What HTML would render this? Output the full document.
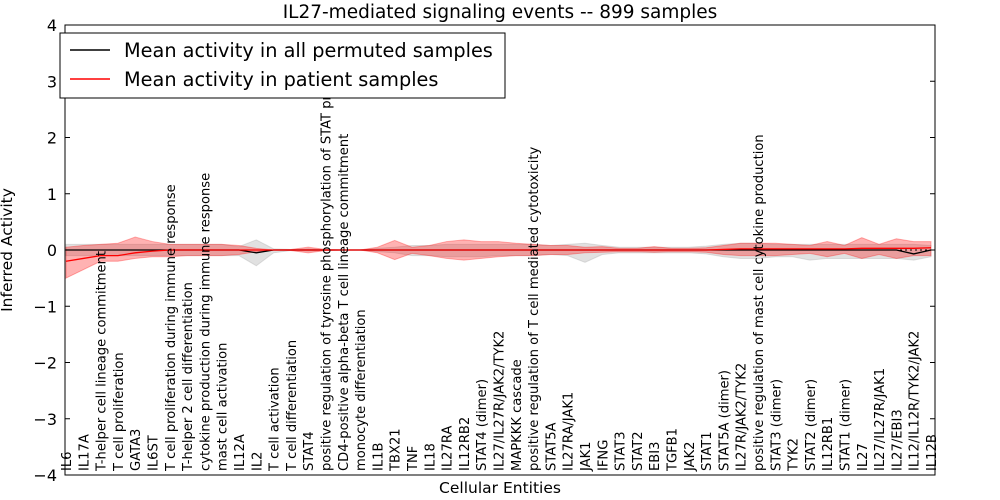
<!DOCTYPE html>
<html><head><meta charset="utf-8"><style>body{margin:0;background:#fff}svg{display:block}text{font-family:"DejaVu Sans","Liberation Sans",sans-serif}</style></head>
<body>
<svg id="c" width="1000" height="500" xmlns="http://www.w3.org/2000/svg"></svg>
<script>
const categories=["IL6","IL17A","T-helper cell lineage commitment","T cell proliferation","GATA3","IL6ST","T cell proliferation during immune response","T-helper 2 cell differentiation","cytokine production during immune response","mast cell activation","IL12A","IL2","T cell activation","T cell differentiation","STAT4","positive regulation of tyrosine phosphorylation of STAT protein","CD4-positive alpha-beta T cell lineage commitment","monocyte differentiation","IL1B","TBX21","TNF","IL18","IL27RA","IL12RB2","STAT4 (dimer)","IL27/IL27R/JAK2/TYK2","MAPKKK cascade","positive regulation of T cell mediated cytotoxicity","STAT5A","IL27RA/JAK1","JAK1","IFNG","STAT3","STAT2","EBI3","TGFB1","JAK2","STAT1","STAT5A (dimer)","IL27R/JAK2/TYK2","positive regulation of mast cell cytokine production","STAT3 (dimer)","TYK2","STAT2 (dimer)","IL12RB1","STAT1 (dimer)","IL27","IL27/IL27R/JAK1","IL27/EBI3","IL12/IL12R/TYK2/JAK2","IL12B"];
const patientMean=[-0.2,-0.15,-0.1,-0.1,-0.05,-0.02,0,0,0,0,0,0,0,0,0,0,0,0,0,0,0,0,0,0,0,0,0,0,0,0,0,0,0,0,0,0,0,0,0.01,0.02,0.02,0.02,0.02,0.02,0.02,0.02,0.03,0.03,0.03,0.03,0.04];
const patientUpper=[0.05,0.08,0.1,0.12,0.23,0.15,0.1,0.1,0.1,0.1,0.08,0.03,0,0.01,0.05,0.01,0,0,0.05,0.17,0.05,0.08,0.15,0.18,0.15,0.15,0.12,0.1,0.08,0.08,0.05,0.06,0.03,0.03,0.06,0.03,0.03,0.04,0.08,0.12,0.12,0.12,0.1,0.08,0.15,0.08,0.22,0.1,0.2,0.15,0.15];
const patientLower=[-0.5,-0.35,-0.2,-0.2,-0.15,-0.12,-0.12,-0.1,-0.1,-0.1,-0.08,-0.03,0,-0.01,-0.05,-0.01,0,0,-0.05,-0.17,-0.06,-0.1,-0.15,-0.18,-0.15,-0.12,-0.1,-0.1,-0.08,-0.08,-0.05,-0.04,-0.03,-0.03,-0.04,-0.03,-0.03,-0.04,-0.08,-0.1,-0.1,-0.1,-0.08,-0.06,-0.12,-0.06,-0.15,-0.08,-0.15,-0.1,-0.1];
const permMean=[0,0,0,0,0,0,0,0,0,0,0,-0.05,0,0,0,0,0,0,0,0,0,0,0,0,0,0,0,0,0,0,0,0,0,0,0,0,0,0,0,0,0,0,0,0,0,0,0,0,0,-0.07,0];
const permUpper=[0.1,0.1,0.1,0.1,0.1,0.1,0.1,0.1,0.1,0.1,0.06,0.18,0.02,0.01,0.02,0.01,0,0,0.03,0.05,0.08,0.08,0.1,0.1,0.1,0.1,0.1,0.1,0.08,0.1,0.12,0.08,0.05,0.05,0.05,0.05,0.05,0.07,0.1,0.12,0.12,0.1,0.1,0.1,0.1,0.1,0.1,0.1,0.1,0.1,0.08];
const permLower=[-0.1,-0.1,-0.1,-0.1,-0.1,-0.1,-0.1,-0.1,-0.1,-0.1,-0.1,-0.28,-0.05,-0.01,-0.02,-0.01,0,0,-0.03,-0.05,-0.1,-0.1,-0.12,-0.12,-0.12,-0.1,-0.1,-0.1,-0.08,-0.1,-0.22,-0.08,-0.05,-0.05,-0.05,-0.05,-0.05,-0.07,-0.12,-0.15,-0.15,-0.12,-0.12,-0.18,-0.15,-0.15,-0.15,-0.15,-0.15,-0.18,-0.12];
const yTicks=[-4,-3,-2,-1,0,1,2,3,4];

const NS="http://www.w3.org/2000/svg",svg=document.getElementById('c');
const L=65,R=935,T=25,B=475;
const x=i=>66+i*(931-66)/(categories.length-1);
const y=v=>250-v*(B-T)/8;
function mk(t,a,p){const e=document.createElementNS(NS,t);for(const k in a)e.setAttribute(k,a[k]);(p||svg).appendChild(e);return e;}
function band(up,lo,fill,op,name){let d=up.map((v,i)=>(i?'L':'M')+x(i)+','+y(v)).join('')+lo.map((v,i)=>i).reverse().map(i=>'L'+x(i)+','+y(lo[i])).join('')+'Z';
const e=mk('path',{d,fill,'fill-opacity':op,stroke:fill,'stroke-opacity':op});

}
function line(vals,stroke,name){const e=mk('path',{d:vals.map((v,i)=>(i?'L':'M')+x(i)+','+y(v)).join(''),fill:'none',stroke,'stroke-width':1.3});

}
band(permUpper,permLower,'#aaaaaa',0.35,'permuted-band');
band(patientUpper,patientLower,'#ff0000',0.3,'patient-band');
const z=mk('line',{x1:L,x2:R,y1:y(0),y2:y(0),stroke:'#000','stroke-dasharray':'2,3'});


line(permMean,'#000','permuted-mean-line');
line(patientMean,'#ff0000','patient-mean-line');
yTicks.forEach(v=>{mk('line',{x1:L,x2:L+5,y1:y(v),y2:y(v),stroke:'#000'});mk('line',{x1:R,x2:R-5,y1:y(v),y2:y(v),stroke:'#000'});
const t=mk('text',{x:L-8,y:y(v)+6,'text-anchor':'end','font-size':16});t.textContent=(v<0?'\u2212'+(-v):v);

});
categories.forEach((c,i)=>{
const t=mk('text',{transform:`translate(${x(i)+5},${B-4}) rotate(-90)`,'font-size':13.1});t.textContent=c;

});
mk('rect',{x:L,y:T,width:R-L,height:B-T,fill:'none',stroke:'#000'});
const lg=mk('g',{});


mk('rect',{x:60,y:33,width:445,height:65,fill:'#fff',stroke:'#000'},lg);
mk('line',{x1:70,x2:110,y1:50,y2:50,stroke:'#000','stroke-width':1.5},lg);
mk('line',{x1:70,x2:110,y1:79,y2:79,stroke:'#f00','stroke-width':1.5},lg);
let t=mk('text',{x:124,y:57,'font-size':19.3},lg);t.textContent='Mean activity in all permuted samples';
t=mk('text',{x:124,y:86,'font-size':19.3},lg);t.textContent='Mean activity in patient samples';
t=mk('text',{x:500,y:18,'text-anchor':'middle','font-size':18.5});t.textContent='IL27-mediated signaling events -- 899 samples';


t=mk('text',{x:500,y:493,'text-anchor':'middle','font-size':15.5});t.textContent='Cellular Entities';


t=mk('text',{transform:'translate(12,250) rotate(-90)','text-anchor':'middle','font-size':15.5});t.textContent='Inferred Activity';


</script>
</body></html>
